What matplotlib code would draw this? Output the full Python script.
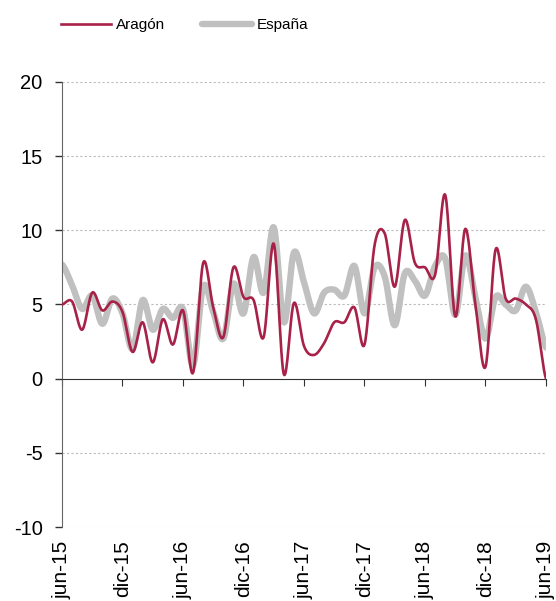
import matplotlib.pyplot as plt
import numpy as np

plt.rcParams['font.family'] = ['Liberation Sans', 'DejaVu Sans']
plt.rcParams['axes.unicode_minus'] = False

# tasa mensual, jun-15 .. jun-19
aragon = [5.0, 5.2, 3.3, 5.8, 4.6, 5.2, 4.5, 1.8, 3.8, 1.1, 4.0, 2.3, 4.6,
          0.4, 7.8, 4.8, 2.8, 7.5, 5.5, 5.3, 2.8, 9.1, 0.3, 5.1, 2.2, 1.6,
          2.4, 3.8, 3.8, 4.8, 2.3, 9.0, 9.8, 6.2, 10.7, 7.8, 7.5, 7.0, 12.4,
          4.2, 10.1, 5.0, 0.8, 8.7, 5.4, 5.4, 5.0, 4.0, 0.0]
espana = [7.7, 6.3, 4.7, 5.6, 3.7, 5.4, 4.4, 2.0, 5.3, 3.3, 4.7, 4.1, 4.7,
          0.9, 6.2, 4.5, 2.7, 6.4, 4.4, 8.2, 5.8, 10.2, 3.8, 8.5, 6.5, 4.4,
          5.8, 6.0, 5.6, 7.6, 4.4, 7.5, 6.9, 3.6, 7.1, 6.6, 5.6, 7.6, 8.1,
          4.3, 8.3, 5.5, 2.7, 5.5, 5.0, 4.6, 6.2, 4.5, 2.1]
etiquetas = ['jun-15', 'dic-15', 'jun-16', 'dic-16', 'jun-17',
             'dic-17', 'jun-18', 'dic-18', 'jun-19']


def suavizar(y, n=20):
    # curva Catmull-Rom que pasa por cada punto (linea suavizada tipo Excel)
    y = np.asarray(y, float)
    p = np.concatenate([[y[0]], y, [y[-1]]])
    xs, ys = [], []
    t = np.linspace(0, 1, n, endpoint=False)
    for i in range(len(y) - 1):
        p0, p1, p2, p3 = p[i], p[i + 1], p[i + 2], p[i + 3]
        seg = 0.5 * (2 * p1 + (-p0 + p2) * t + (2 * p0 - 5 * p1 + 4 * p2 - p3) * t**2
                     + (-p0 + 3 * p1 - 3 * p2 + p3) * t**3)
        xs.extend(i + t)
        ys.extend(seg)
    xs.append(len(y) - 1)
    ys.append(y[-1])
    return np.array(xs), np.array(ys)


fig = plt.figure(figsize=(5.56, 6.01), dpi=100)
ax = fig.add_axes([0.1115, 0.1231, 0.8705, 0.7405])

xa, ya = suavizar(aragon)
xe, ye = suavizar(espana)
ax.plot(xa, ya, color='#A82148', lw=1.9, label='Aragón', zorder=3)
ax.plot(xe, ye, color='#C0C0C0', lw=4.6, label='España', solid_capstyle='round', zorder=2)

ax.set_xlim(0, 48)
ax.set_ylim(-10, 20)
ax.set_yticks([-10, -5, 0, 5, 10, 15, 20])
ax.tick_params(axis='y', labelsize=14.5, length=5, width=1, color='#333333', pad=9)
for v in [-10, -5, 5, 10, 15, 20]:
    ax.axhline(v, color='#BBBBBB', lw=0.8, ls=(0, (2, 2)), zorder=1)

ax.spines['top'].set_visible(False)
ax.spines['right'].set_visible(False)
ax.spines['left'].set_color('#666666')
ax.spines['bottom'].set_position(('data', 0))
ax.spines['bottom'].set_color('#333333')

ticks = np.arange(0, 49, 6)
ax.set_xticks(ticks)
ax.set_xticklabels([])
ax.tick_params(axis='x', direction='out', length=5, color='#333333')
for x, lab in zip(ticks, etiquetas):
    ax.text(x, -10.9, lab, rotation=90, ha='center', va='top', fontsize=15)

fig.legend(loc='upper left', bbox_to_anchor=(0.085, 0.993), ncol=2, frameon=False,
           fontsize=11, handlelength=3.3, handletextpad=0.3, columnspacing=2.4)

fig.savefig('out.png', dpi=100)
